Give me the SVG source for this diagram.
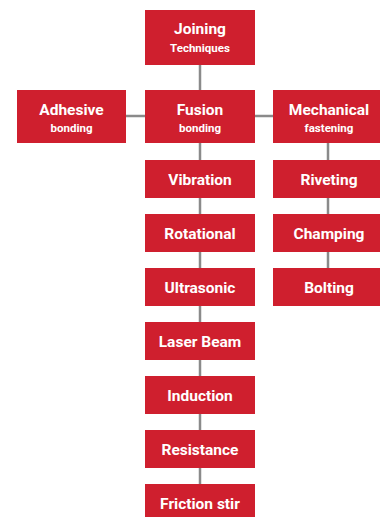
<svg xmlns="http://www.w3.org/2000/svg" width="380" height="517" viewBox="0 0 380 517">
<style>
.b{fill:#cf1f2e}
.c{stroke:#8a8a8a;stroke-width:2.5;fill:none}
text{font-family:Roboto,"Liberation Sans",sans-serif;font-weight:bold;fill:#fff;text-anchor:middle}
.t{font-size:15.5px}
.s{font-size:11.5px}
</style>
<rect width="380" height="517" fill="#fff"/>
<g id="connectors">
<path class="c" d="M200,65V160M126,116H146M255,116H273M200,198V484M328,143V298"/>
</g>
<g id="joining"><rect class="b" x="145" y="10" width="110" height="55"/><text class="t" x="200" y="34">Joining</text><text class="s" x="200" y="52">Techniques</text></g>
<g id="adhesive"><rect class="b" x="17" y="90" width="109" height="53"/><text class="t" x="71.5" y="115">Adhesive</text><text class="s" x="71.5" y="132">bonding</text></g>
<g id="fusion"><rect class="b" x="145" y="90" width="110" height="53"/><text class="t" x="200" y="115">Fusion</text><text class="s" x="200" y="132">bonding</text></g>
<g id="mechanical"><rect class="b" x="273" y="90" width="107" height="53"/><text class="t" x="329" y="115">Mechanical</text><text class="s" x="329" y="132">fastening</text></g>
<g id="vibration"><rect class="b" x="145" y="160" width="110" height="38"/><text class="t" x="200" y="185">Vibration</text></g>
<g id="rotational"><rect class="b" x="145" y="214" width="110" height="38"/><text class="t" x="200" y="239">Rotational</text></g>
<g id="ultrasonic"><rect class="b" x="145" y="268" width="110" height="38"/><text class="t" x="200" y="293">Ultrasonic</text></g>
<g id="laser"><rect class="b" x="145" y="322" width="110" height="38"/><text class="t" x="200" y="347">Laser Beam</text></g>
<g id="induction"><rect class="b" x="145" y="376" width="110" height="38"/><text class="t" x="200" y="401">Induction</text></g>
<g id="resistance"><rect class="b" x="145" y="430" width="110" height="38"/><text class="t" x="200" y="455">Resistance</text></g>
<g id="friction"><rect class="b" x="145" y="484" width="110" height="38"/><text class="t" x="200" y="509">Friction stir</text></g>
<g id="riveting"><rect class="b" x="273" y="160" width="107" height="38"/><text class="t" x="329" y="185">Riveting</text></g>
<g id="champing"><rect class="b" x="273" y="214" width="107" height="38"/><text class="t" x="329" y="239">Champing</text></g>
<g id="bolting"><rect class="b" x="273" y="268" width="107" height="38"/><text class="t" x="329" y="293">Bolting</text></g>
</svg>
